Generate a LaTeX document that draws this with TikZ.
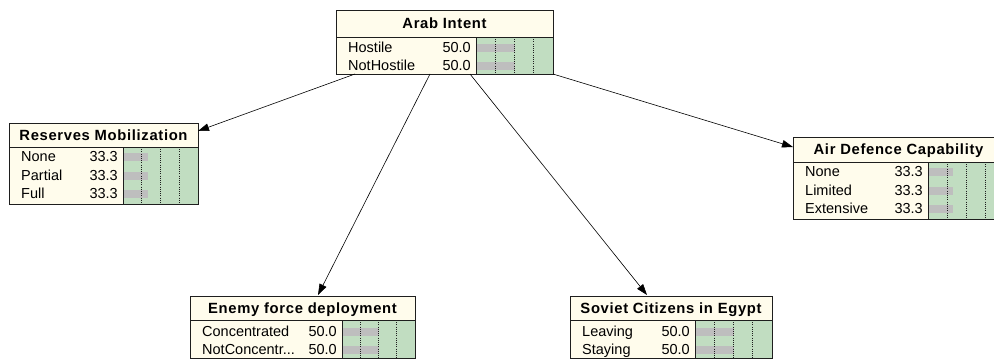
\documentclass[tikz,border=0pt]{standalone}
\usepackage{fontspec}
\setmainfont{Liberation Sans}
\usetikzlibrary{arrows.meta}

\definecolor{paper}{RGB}{255,252,236}
\definecolor{beliefbg}{RGB}{193,221,193}
\definecolor{beliefbar}{RGB}{190,190,190}
\definecolor{frame}{RGB}{30,30,30}

\newcommand{\statefont}{\fontsize{14.5}{16}\selectfont}
\newcommand{\titlefont}{\fontsize{14.8}{16}\selectfont\bfseries\addfontfeature{LetterSpace=4.5}}

\tikzset{
  netframe/.style={draw=none, fill=paper, inner sep=0pt, outer sep=0pt, anchor=north west},
  statelabel/.style={inner sep=0pt, anchor=base west, font=\statefont},
  statevalue/.style={inner sep=0pt, anchor=base east, font=\statefont},
  nodetitle/.style={inner sep=0pt, anchor=base, font=\titlefont},
  gridline/.style={draw=frame, line width=0.6pt, dash pattern=on 1pt off 1.2pt},
  edgeline/.style={line width=0.7pt, draw=frame},
  link/.style={draw=black, line width=0.6pt, -{Triangle[length=11pt, width=7.5pt]}}
}

% first baseline offset below the title row, and the row pitch
\newcommand{\rowfirst}{15}
\newcommand{\rowpitch}{18.5}

% #1 name, #2 left, #3 top, #4 width, #5 label column width,
% #6 title height, #7 total height, #8 title, #9 states (label/value/percent)
\newcommand{\netnode}[9]{%
  \pgfmathsetmacro{\nbot}{#3+#7}%
  \pgfmathsetmacro{\ntb}{#3+#6}%
  \pgfmathsetmacro{\nbx}{#2+#5}%
  \pgfmathsetmacro{\nbw}{#4-#5}%
  \pgfmathsetmacro{\nright}{#2+#4}%
  \node[netframe, minimum width=#4, minimum height=#7] (#1) at (#2,#3) {};
  \fill[beliefbg] (\nbx,\ntb) rectangle (\nright,\nbot);
  \foreach \lab/\val/\pct [count=\i] in {#9} {
    \pgfmathsetmacro{\by}{\ntb+\rowfirst+(\i-1)*\rowpitch}
    \fill[beliefbar] ({\nbx+1},{\by-8.5}) rectangle ({\nbx+\pct*\nbw/100},{\by-0.5});
    \node[statelabel] (#1-s\i) at ({#2+12},\by) {\lab};
    \node[statevalue] (#1-v\i) at ({\nbx-5},\by) {\val};
  }
  \foreach \k in {1,2,3} {
    \draw[gridline] ({\nbx+\k*\nbw/4},\ntb) -- ({\nbx+\k*\nbw/4},\nbot);
  }
  \node[nodetitle] (#1-title) at ({#2+#4/2},{#3+#6/2+5}) {#8};
  \draw[edgeline] (#2,\ntb) -- (\nright,\ntb);
  \draw[edgeline] (\nbx,\ntb) -- (\nbx,\nbot);
  \draw[edgeline] (#1.north west) rectangle (#1.south east);
}

\begin{document}
\begin{tikzpicture}[x=1pt, y=-1pt]
  \fill[white] (0,0) rectangle (994,359);
  \useasboundingbox (0,0) rectangle (994,359);
  \clip (0,0) rectangle (994,359);

  \renewcommand{\rowfirst}{15}\renewcommand{\rowpitch}{18.7}
  \netnode{arab}{336}{10}{217}{140}{27}{64}{Arab Intent}
    {Hostile/50.0/50, NotHostile/50.0/50}

  \renewcommand{\rowfirst}{14.7}\renewcommand{\rowpitch}{18.3}
  \netnode{reserves}{9}{123}{189}{114}{24}{81}{Reserves Mobilization}
    {None/33.3/33.3, Partial/33.3/33.3, Full/33.3/33.3}

  \renewcommand{\rowfirst}{14.5}\renewcommand{\rowpitch}{18.5}
  \netnode{airdef}{793}{137}{211}{135}{25}{82}{Air Defence Capability}
    {None/33.3/33.3, Limited/33.3/33.3, Extensive/33.3/33.3}

  \renewcommand{\rowfirst}{16.7}\renewcommand{\rowpitch}{17.3}
  \netnode{enemy}{190}{296}{225}{152}{24}{62}{Enemy force deployment}
    {Concentrated/50.0/50, NotConcentr.{}.{}./50.0/50}

  \netnode{soviet}{570}{296}{202}{125}{24}{62}{Soviet Citizens in Egypt}
    {Leaving/50.0/50, Staying/50.0/50}

  % causal links from the parent node
  \draw[link] ([xshift=19pt]arab.south west) -- ([yshift=-8pt]reserves.north east);
  \draw[link] ([xshift=94pt]arab.south west) -- ([xshift=128pt, yshift=1pt]enemy.north west);
  \draw[link] ([xshift=134pt]arab.south west) -- ([xshift=77pt, yshift=1pt]soviet.north west);
  \draw[link] (arab.south east) -- ([yshift=-10pt]airdef.north west);
\end{tikzpicture}
\end{document}
